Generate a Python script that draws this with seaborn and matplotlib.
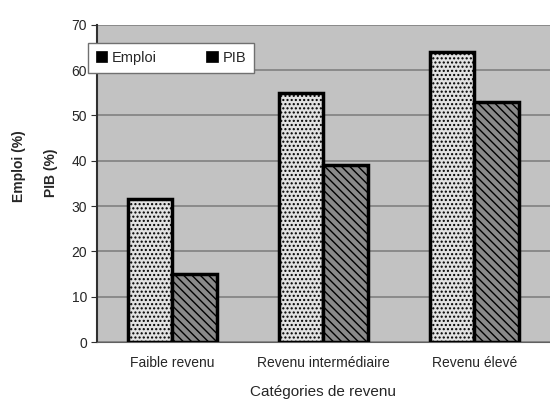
import numpy as np
import matplotlib
matplotlib.use("Agg")
import matplotlib.pyplot as plt
import pandas as pd
import seaborn as sns

categories = ["Faible revenu", "Revenu intermédiaire", "Revenu élevé"]
emploi = [31.5, 55, 64]
pib = [15, 39, 53]
series = ["Emploi", "PIB"]

df = pd.DataFrame({
    "cat": categories * 2,
    "serie": ["Emploi"] * 3 + ["PIB"] * 3,
    "val": emploi + pib,
})

sns.set_style("white")
plt.rcParams['font.family'] = ['Liberation Sans', 'DejaVu Sans']
plt.rcParams['hatch.linewidth'] = 1.0

fig = plt.figure(figsize=(5.5, 4.01), dpi=100)
ax = fig.add_axes([0.176, 0.147, 0.824, 0.791])
ax.set_facecolor('#c2c2c2')

sns.barplot(data=df, x="cat", y="val", hue="serie", ax=ax,
            palette=['#e2e2e2', '#8a8a8a'], width=0.59, gap=0,
            edgecolor='black', linewidth=2.5, saturation=1, zorder=3)

# hachures des barres
for bar in ax.containers[1]:
    bar.set_hatch('\\\\\\\\')
for bar in ax.containers[0]:
    bar.set_hatch('....')

ax.set_ylim(0, 70)
ax.set_xlim(-0.5, 2.5)
ax.set_yticks(range(0, 71, 10))
ax.yaxis.grid(True, color='#808080', linewidth=1.2, zorder=0)
ax.set_axisbelow(True)
ax.set_xticks([0.5, 1.5], minor=True)
ax.tick_params(axis='x', which='major', length=0, pad=10, labelsize=10)
ax.tick_params(axis='x', which='minor', length=4, direction='in', color='#303030')
ax.tick_params(axis='y', length=4, color='#303030', labelsize=10, pad=3, left=True)

for s in ['top', 'right']:
    ax.spines[s].set_visible(False)
ax.spines['left'].set_color('#303030')
ax.spines['bottom'].set_color('#606060')
ax.spines['left'].set_linewidth(1.5)

ax.set_xlabel("Catégories de revenu", fontsize=11, labelpad=11)
ax.set_ylabel("")
fig.text(0.034, 0.585, "Emploi (%)", rotation=90, fontsize=10, fontweight='bold',
         ha='center', va='center')
fig.text(0.092, 0.57, "PIB (%)", rotation=90, fontsize=10, fontweight='bold',
         ha='center', va='center')

leg = ax.legend(loc='upper left', bbox_to_anchor=(-0.02, 0.943), ncol=2,
                frameon=True, fancybox=False, edgecolor='#707070',
                fontsize=10.5, handlelength=0.8, handleheight=0.8,
                columnspacing=3.4, handletextpad=0.3, borderpad=0.55,
                borderaxespad=0)
leg.get_frame().set_facecolor('white')
leg.get_frame().set_alpha(1)
leg.get_frame().set_linewidth(1.0)
for h in leg.legend_handles:
    h.set_facecolor('black')
    h.set_linewidth(0.5)
leg.set_zorder(5)

fig.savefig("out.png", dpi=100)
